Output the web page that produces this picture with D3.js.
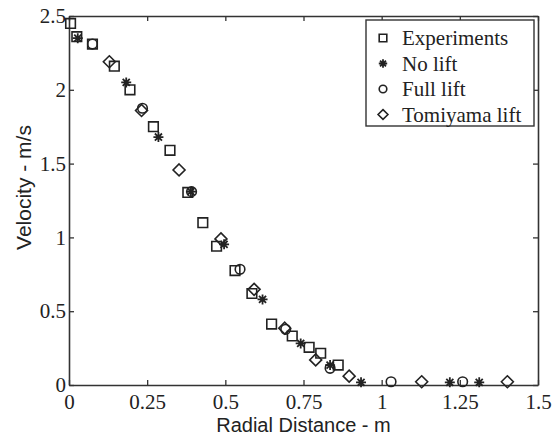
<!DOCTYPE html>
<html>
<head>
<meta charset="utf-8">
<script src="https://cdn.jsdelivr.net/npm/d3@7"></script>
<style>
  body { margin: 0; background: #fff; }
  svg { display: block; }
</style>
</head>
<body>
<svg id="chart" width="554" height="441"></svg>
<script>
// values
let expX = [0.005, 0.025, 0.075, 0.145, 0.195, 0.27, 0.323, 0.38, 0.428, 0.472, 0.531, 0.585, 0.648, 0.714, 0.768, 0.805, 0.861]
let expY = [2.45, 2.36, 2.31, 2.16, 2.0, 1.75, 1.59, 1.305, 1.10, 0.94, 0.775, 0.62, 0.413, 0.332, 0.255, 0.215, 0.135]

let noLiftX = [0.028, 0.183, 0.286, 0.39, 0.496, 0.619, 0.741, 0.835, 0.934, 1.218, 1.312]
let noLiftY = [2.35, 2.05, 1.68, 1.31, 0.953, 0.58, 0.282, 0.135, 0.018, 0.018, 0.018]

let fullLiftX = [0.075, 0.235, 0.392, 0.547, 0.693, 0.835, 1.03, 1.259]
let fullLiftY = [2.31, 1.875, 1.31, 0.784, 0.377, 0.113, 0.022, 0.022]

let tomiyamaX = [0.129, 0.232, 0.352, 0.486, 0.592, 0.69, 0.789, 0.896, 1.128, 1.402]
let tomiyamaY = [2.19, 1.86, 1.457, 0.99, 0.648, 0.385, 0.17, 0.06, 0.022, 0.022]

let xTicks = [0, 0.25, 0.5, 0.75, 1, 1.25, 1.5]
let yTicks = [0, 0.5, 1, 1.5, 2, 2.5]
let seriesNames = ['Experiments', 'No lift', 'Full lift', 'Tomiyama lift']
let seriesShapes = ['square', 'star', 'circle', 'diamond']

let svg = d3.select('#chart')
let ink = '#222'

let padLeft = 69, padRight = 538, padTop = 16, padBottom = 385

let xScale = d3.scaleLinear().domain([0, 1.5]).range([padLeft, padRight])
let yScale = d3.scaleLinear().domain([0, 2.5]).range([padBottom, padTop])

// marker paths
let markPath = (shape, s) => {
    if (shape === 'square') {
        return 'M' + (-s) + ',' + (-s) + 'h' + (2 * s) + 'v' + (2 * s) + 'h' + (-2 * s) + 'Z'
    } else if (shape === 'diamond') {
        let d = s * 1.3
        return 'M0,' + (-d) + 'L' + d + ',0L0,' + d + 'L' + (-d) + ',0Z'
    } else if (shape === 'star') {
        let p = ''
        for (let i = 0; i < 4; i++) {
            let a = i * Math.PI / 4
            p += 'M' + (-s * Math.cos(a)) + ',' + (-s * Math.sin(a)) + 'L' + (s * Math.cos(a)) + ',' + (s * Math.sin(a))
        }
        return p
    }
    return ''
}

let drawMark = (g, shape, s) => {
    if (shape === 'circle') {
        g.append('circle').attr('r', s).attr('fill', 'none').attr('stroke', ink).attr('stroke-width', 1.6)
    } else {
        g.append('path').attr('d', markPath(shape, s))
            .attr('fill', 'none').attr('stroke', ink)
            .attr('stroke-width', shape === 'star' ? 1.8 : 1.6)
    }
}

let series = [
    { xs: expX, ys: expY },
    { xs: noLiftX, ys: noLiftY },
    { xs: fullLiftX, ys: fullLiftY },
    { xs: tomiyamaX, ys: tomiyamaY }
]

// axes box
let xBottom = d3.axisBottom(xScale).tickValues(xTicks).tickSizeInner(-5).tickSizeOuter(0)
    .tickPadding(9).tickFormat(d => d3.format('~g')(d))
let xTop = d3.axisTop(xScale).tickValues(xTicks).tickSizeInner(-5).tickSizeOuter(0).tickFormat('')
let yLeft = d3.axisLeft(yScale).tickValues(yTicks).tickSizeInner(-5).tickSizeOuter(0)
    .tickPadding(3).tickFormat(d => d3.format('~g')(d))
let yRight = d3.axisRight(yScale).tickValues(yTicks).tickSizeInner(-5).tickSizeOuter(0).tickFormat('')

let styleAxis = (g) => {
    g.selectAll('path').attr('stroke', '#333').attr('stroke-width', 1.6)
    g.selectAll('line').attr('stroke', '#333').attr('stroke-width', 1.3)
    g.selectAll('text').attr('fill', '#222')
        .style('font-family', '"Liberation Serif", "Times New Roman", serif').style('font-size', '21px')
}

svg.append('g').attr('transform', 'translate(0,' + padBottom + ')').call(xBottom).call(styleAxis)
svg.append('g').attr('transform', 'translate(0,' + padTop + ')').call(xTop).call(styleAxis)
svg.append('g').attr('transform', 'translate(' + padLeft + ',0)').call(yLeft).call(styleAxis)
svg.append('g').attr('transform', 'translate(' + padRight + ',0)').call(yRight).call(styleAxis)

// points
series.forEach((sr, i) => {
    let pts = sr.xs.map((x, j) => [x, sr.ys[j]])
    svg.append('g').selectAll('g')
        .data(pts)
        .enter()
        .append('g')
        .attr('transform', d => 'translate(' + xScale(d[0]) + ',' + yScale(d[1]) + ')')
        .each(function () { drawMark(d3.select(this), seriesShapes[i], i === 1 ? 5 : (i === 3 ? 4.6 : 4.8)) })
})

// axis titles
svg.append('text')
    .attr('x', (padLeft + padRight) / 2).attr('y', 432)
    .attr('text-anchor', 'middle')
    .style('font-family', '"Liberation Sans", Arial, sans-serif').style('font-size', '20px')
    .attr('fill', '#222')
    .text('Radial Distance - m')

svg.append('text')
    .attr('transform', 'translate(31,' + ((padTop + padBottom) / 2 - 13) + ') rotate(-90)')
    .attr('text-anchor', 'middle')
    .style('font-family', '"Liberation Sans", Arial, sans-serif').style('font-size', '21px')
    .attr('fill', '#222')
    .text('Velocity - m/s')

// legend
let legend = svg.append('g')
legend.append('rect')
    .attr('x', 366).attr('y', 20).attr('width', 168).attr('height', 106)
    .attr('fill', '#fff').attr('stroke', '#333').attr('stroke-width', 1.4)

seriesNames.forEach((name, i) => {
    let row = legend.append('g').attr('transform', 'translate(383,' + (38 + i * 25.5) + ')')
    drawMark(row, seriesShapes[i], i === 1 ? 4.2 : 3.8)
    row.append('text')
        .attr('x', 19).attr('y', 7)
        .style('font-family', '"Liberation Serif", "Times New Roman", serif').style('font-size', '21px')
        .attr('fill', '#222')
        .text(name)
})
</script>
</body>
</html>
